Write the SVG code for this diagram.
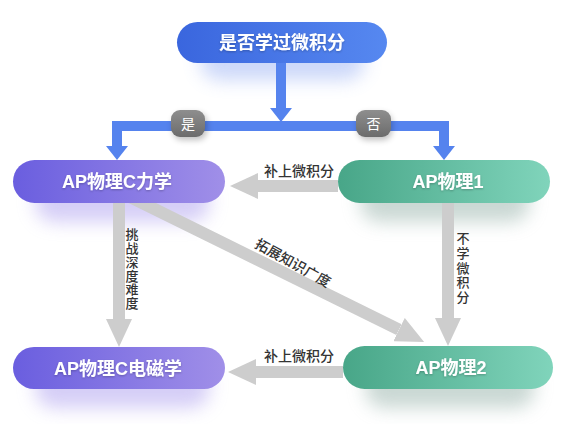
<svg xmlns="http://www.w3.org/2000/svg" width="572" height="424" viewBox="0 0 572 424">
  <defs>
    <style>
      .nodeText { font-family: "Liberation Sans", "Noto Sans CJK SC", sans-serif; font-weight: bold; font-size: 18px; fill: #ffffff; text-anchor: middle; }
      .lbl { font-family: "Noto Sans CJK SC", sans-serif; font-weight: 500; font-size: 14px; fill: #333333; text-anchor: middle; }
      .vlbl { font-family: "Noto Sans CJK SC", sans-serif; font-weight: 500; font-size: 13px; fill: #333333; writing-mode: vertical-rl; text-anchor: start; }
      .badgeText { font-family: "Noto Sans CJK SC", sans-serif; font-size: 14px; fill: #ffffff; text-anchor: middle; }
      .gray { fill: none; stroke: #cdcdcd; stroke-width: 12; }
      .blue { fill: none; stroke: #5583ee; stroke-width: 10; }
    </style>
    <linearGradient id="gBlue" x1="0" y1="0" x2="1" y2="0">
      <stop offset="0" stop-color="#3a66de"/>
      <stop offset="1" stop-color="#5688f0"/>
    </linearGradient>
    <linearGradient id="gPurple" x1="0" y1="0" x2="1" y2="0">
      <stop offset="0" stop-color="#6a5edf"/>
      <stop offset="1" stop-color="#a08fe8"/>
    </linearGradient>
    <linearGradient id="gGreen" x1="0" y1="0" x2="1" y2="0">
      <stop offset="0" stop-color="#48a688"/>
      <stop offset="1" stop-color="#80d4bb"/>
    </linearGradient>
    <linearGradient id="gBadge" x1="0" y1="0" x2="0" y2="1">
      <stop offset="0" stop-color="#8e8e8e"/>
      <stop offset="1" stop-color="#6c6c6c"/>
    </linearGradient>
    <filter id="blur" x="-50%" y="-100%" width="200%" height="300%">
      <feGaussianBlur stdDeviation="9"/>
    </filter>
    <filter id="blurS" x="-50%" y="-100%" width="200%" height="300%">
      <feGaussianBlur stdDeviation="3"/>
    </filter>
    <filter id="txtShadow" x="-20%" y="-50%" width="140%" height="200%">
      <feDropShadow dx="0" dy="1" stdDeviation="1" flood-color="#000000" flood-opacity="0.25"/>
    </filter>
    <marker id="grayHead" markerUnits="userSpaceOnUse" markerWidth="30" markerHeight="26" refX="0" refY="13" orient="auto">
      <path d="M0,0 L28,13 L0,26 Z" fill="#cdcdcd"/>
    </marker>
    <marker id="blueHead" markerUnits="userSpaceOnUse" markerWidth="16" markerHeight="24" refX="0" refY="11" orient="auto">
      <path d="M0,0 L14,11 L0,22 Z" fill="#5583ee"/>
    </marker>
  </defs>

  <rect x="0" y="0" width="572" height="424" fill="#ffffff"/>

  <!-- soft shadows -->
  <g id="shadows">
    <rect x="200" y="40" width="165" height="40" rx="20" fill="#8fa9f3" opacity="0.45" filter="url(#blur)"/>
    <rect x="35" y="180" width="175" height="42" rx="20" fill="#b3a6f0" opacity="0.55" filter="url(#blur)"/>
    <rect x="360" y="180" width="170" height="42" rx="20" fill="#9fb8b0" opacity="0.55" filter="url(#blur)"/>
    <rect x="35" y="366" width="175" height="42" rx="20" fill="#b3a6f0" opacity="0.55" filter="url(#blur)"/>
    <rect x="365" y="366" width="170" height="42" rx="20" fill="#9fb8b0" opacity="0.55" filter="url(#blur)"/>
  </g>

  <g id="connectors">
    <!-- blue decision connectors -->
    <path class="blue" d="M281,63 V108" marker-end="url(#blueHead)"/>
    <path class="blue" d="M282,126 H117 V146" stroke-linejoin="miter" marker-end="url(#blueHead)"/>
    <path class="blue" d="M280,126 H444 V146" stroke-linejoin="miter" marker-end="url(#blueHead)"/>
    <!-- gray arrows -->
    <path class="gray" d="M338,186 H258" stroke-width="11" marker-end="url(#grayHead)"/>
    <path class="gray" d="M343,372 H256" stroke-width="11" marker-end="url(#grayHead)"/>
    <path class="gray" d="M119,200 V319" marker-end="url(#grayHead)"/>
    <path class="gray" d="M448,200 V318" marker-end="url(#grayHead)"/>
    <path class="gray" d="M120,192 L399,329.6" marker-end="url(#grayHead)"/>
    <!-- labels -->
    <text class="lbl" x="299" y="176">补上微积分</text>
    <text class="lbl" x="299" y="361">补上微积分</text>
    <text class="lbl" x="293" y="268" transform="rotate(29 293 263)">拓展知识广度</text>
    <text class="vlbl" x="132" y="228" letter-spacing="0.7">挑战深度难度</text>
    <text class="vlbl" x="463" y="232" letter-spacing="1.6">不学微积分</text>
    <!-- badges -->
    <g id="badge-yes">
      <rect x="173" y="113" width="34" height="27" rx="9" fill="#000000" opacity="0.25" filter="url(#blurS)"/>
      <rect x="171" y="110" width="34" height="27" rx="9" fill="url(#gBadge)"/>
      <text class="badgeText" x="188" y="129">是</text>
    </g>
    <g id="badge-no">
      <rect x="358" y="113" width="34" height="27" rx="9" fill="#000000" opacity="0.25" filter="url(#blurS)"/>
      <rect x="356" y="110" width="35" height="27" rx="9" fill="url(#gBadge)"/>
      <text class="badgeText" x="373.5" y="129">否</text>
    </g>
  </g>

  <g id="node-calculus">
    <rect x="177" y="22" width="210" height="41" rx="20.5" fill="url(#gBlue)"/>
    <text class="nodeText" x="282" y="49" filter="url(#txtShadow)">是否学过微积分</text>
  </g>
  <g id="node-apc-mech">
    <rect x="13" y="160" width="212" height="43" rx="21.5" fill="url(#gPurple)"/>
    <text class="nodeText" x="117" y="188" filter="url(#txtShadow)">AP物理C力学</text>
  </g>
  <g id="node-ap1">
    <rect x="338" y="160" width="212" height="43" rx="21.5" fill="url(#gGreen)"/>
    <text class="nodeText" x="448" y="188" filter="url(#txtShadow)">AP物理1</text>
  </g>
  <g id="node-apc-em">
    <rect x="13" y="347" width="212" height="42" rx="21" fill="url(#gPurple)"/>
    <text class="nodeText" x="118" y="374.5" filter="url(#txtShadow)">AP物理C电磁学</text>
  </g>
  <g id="node-ap2">
    <rect x="343" y="346" width="210" height="43" rx="21.5" fill="url(#gGreen)"/>
    <text class="nodeText" x="451" y="374" filter="url(#txtShadow)">AP物理2</text>
  </g>
</svg>
